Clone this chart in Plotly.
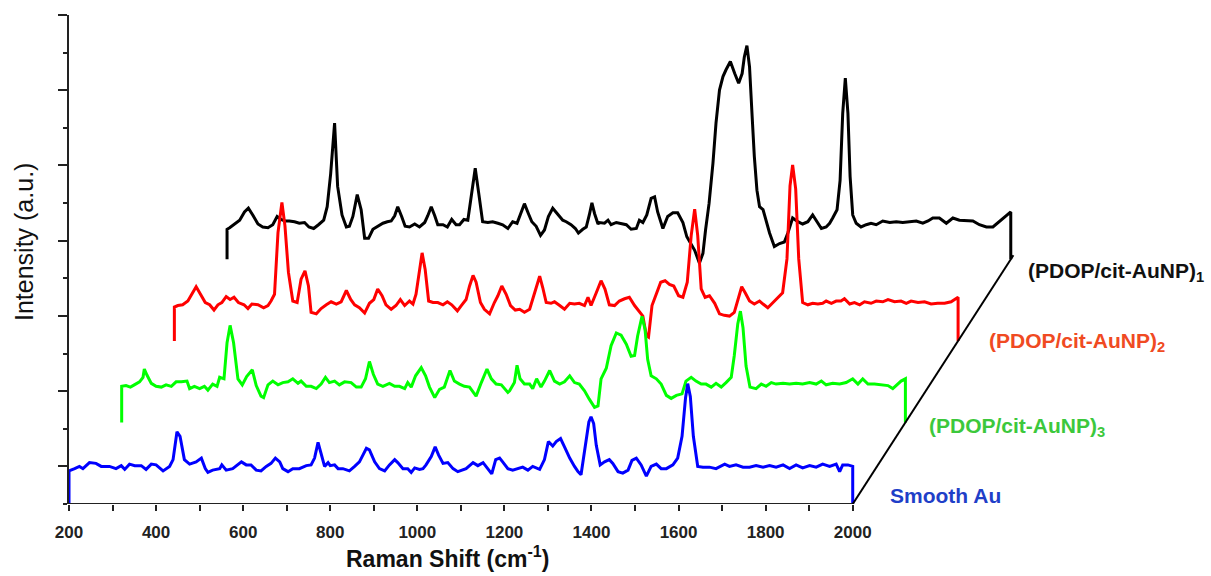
import plotly.graph_objects as go

# ---------------- data (Raman shift in cm^-1, intensity in a.u. above each trace's own floor) ----------------
smooth_au_shift = [200, 213, 224, 232, 247, 262, 274, 293, 308, 320, 328, 339, 351, 366, 377, 389, 400, 416, 431, 439,
                   448, 455, 465, 477, 492, 504, 513, 519, 530, 546, 551, 561, 576, 596, 607, 618, 630, 641, 653, 664,
                   674, 684, 691, 703, 714, 729, 745, 756, 764, 772, 779, 787, 795, 800, 810, 818, 829, 844, 856, 867,
                   875, 883, 890, 902, 913, 925, 936, 948, 955, 967, 978, 986, 994, 1005, 1013, 1020, 1032, 1041, 1049,
                   1059, 1070, 1082, 1093, 1112, 1128, 1139, 1151, 1162, 1171, 1180, 1189, 1196, 1208, 1219, 1231, 1242,
                   1254, 1265, 1281, 1292, 1301, 1311, 1319, 1329, 1338, 1350, 1361, 1369, 1376, 1386, 1394, 1399, 1405,
                   1411, 1420, 1430, 1441, 1449, 1461, 1472, 1484, 1493, 1503, 1514, 1526, 1537, 1549, 1560, 1572, 1587,
                   1598, 1608, 1616, 1621, 1627, 1634, 1644, 1656, 1671, 1686, 1698, 1706, 1717, 1732, 1748, 1763, 1778,
                   1794, 1809, 1824, 1840, 1855, 1870, 1885, 1901, 1916, 1931, 1947, 1962, 1970, 1977, 1989, 2000]
smooth_au_int = [0.44, 0.47, 0.50, 0.47, 0.55, 0.54, 0.50, 0.50, 0.47, 0.51, 0.46, 0.53, 0.51, 0.51, 0.46, 0.53, 0.52,
                 0.44, 0.50, 0.59, 0.96, 0.90, 0.59, 0.53, 0.56, 0.61, 0.47, 0.42, 0.45, 0.47, 0.52, 0.45, 0.47, 0.56,
                 0.52, 0.52, 0.45, 0.44, 0.50, 0.54, 0.61, 0.56, 0.47, 0.43, 0.47, 0.47, 0.51, 0.52, 0.61, 0.82, 0.67,
                 0.50, 0.55, 0.51, 0.52, 0.47, 0.47, 0.44, 0.50, 0.56, 0.65, 0.74, 0.72, 0.56, 0.47, 0.44, 0.52, 0.59,
                 0.55, 0.47, 0.47, 0.42, 0.48, 0.46, 0.47, 0.52, 0.63, 0.76, 0.65, 0.54, 0.55, 0.47, 0.43, 0.47, 0.55,
                 0.51, 0.55, 0.47, 0.40, 0.59, 0.61, 0.56, 0.47, 0.45, 0.47, 0.49, 0.45, 0.50, 0.46, 0.59, 0.83, 0.77,
                 0.83, 0.87, 0.76, 0.61, 0.50, 0.43, 0.39, 0.76, 1.09, 1.16, 1.07, 0.78, 0.52, 0.56, 0.59, 0.54, 0.43,
                 0.41, 0.45, 0.58, 0.61, 0.52, 0.37, 0.50, 0.53, 0.47, 0.47, 0.52, 0.61, 0.90, 1.41, 1.60, 1.43, 0.90,
                 0.50, 0.49, 0.49, 0.47, 0.50, 0.53, 0.50, 0.52, 0.49, 0.49, 0.51, 0.49, 0.51, 0.49, 0.52, 0.47, 0.52,
                 0.48, 0.51, 0.49, 0.53, 0.50, 0.53, 0.43, 0.52, 0.52, 0.50]

aunp3_shift = [200, 210, 220, 229, 241, 249, 252, 258, 268, 279, 291, 302, 314, 325, 337, 350, 356, 367, 379, 390, 398,
               409, 419, 425, 435, 442, 449, 457, 467, 477, 487, 500, 509, 520, 526, 536, 547, 559, 570, 582, 593, 605,
               612, 624, 635, 647, 658, 668, 677, 689, 700, 712, 727, 739, 750, 760, 769, 778, 788, 800, 815, 827, 838,
               850, 857, 865, 875, 888, 898, 907, 919, 930, 941, 954, 964, 976, 987, 999, 1014, 1026, 1039, 1049, 1060,
               1072, 1087, 1091, 1102, 1108, 1115, 1125, 1137, 1144, 1153, 1163, 1171, 1183, 1194, 1206, 1217, 1229,
               1240, 1251, 1263, 1274, 1286, 1294, 1301, 1313, 1324, 1336, 1347, 1359, 1370, 1378, 1385, 1395, 1402,
               1408, 1416, 1428, 1439, 1451, 1462, 1474, 1487, 1496, 1508, 1519, 1531, 1542, 1554, 1565, 1577, 1588,
               1600, 1607, 1615, 1621, 1627, 1634, 1643, 1657, 1669, 1680, 1692, 1703, 1719, 1734, 1749, 1764, 1780,
               1795, 1807, 1818, 1833, 1849, 1864, 1879, 1891, 1902, 1914, 1929, 1944, 1960, 1971, 1983, 1990, 2000]
aunp3_int = [0.48, 0.49, 0.47, 0.50, 0.54, 0.60, 0.71, 0.63, 0.52, 0.48, 0.47, 0.50, 0.48, 0.54, 0.54, 0.55, 0.45,
             0.48, 0.45, 0.48, 0.43, 0.51, 0.48, 0.60, 0.58, 1.06, 1.29, 1.06, 0.58, 0.50, 0.61, 0.70, 0.49, 0.35, 0.33,
             0.50, 0.55, 0.50, 0.53, 0.54, 0.58, 0.52, 0.55, 0.48, 0.48, 0.45, 0.51, 0.60, 0.53, 0.55, 0.50, 0.54, 0.53,
             0.47, 0.47, 0.58, 0.81, 0.64, 0.51, 0.48, 0.52, 0.48, 0.48, 0.45, 0.53, 0.47, 0.62, 0.73, 0.62, 0.47, 0.33,
             0.44, 0.47, 0.69, 0.55, 0.51, 0.48, 0.47, 0.35, 0.53, 0.71, 0.58, 0.51, 0.50, 0.40, 0.42, 0.53, 0.76, 0.58,
             0.51, 0.51, 0.45, 0.58, 0.47, 0.55, 0.69, 0.55, 0.51, 0.54, 0.62, 0.53, 0.51, 0.42, 0.31, 0.20, 0.22, 0.58,
             0.72, 1.02, 1.19, 1.16, 1.04, 0.88, 0.89, 1.15, 1.41, 1.24, 0.84, 0.62, 0.58, 0.51, 0.36, 0.32, 0.36, 0.38,
             0.55, 0.60, 0.55, 0.51, 0.51, 0.47, 0.52, 0.47, 0.53, 0.60, 0.89, 1.31, 1.48, 1.26, 0.75, 0.47, 0.45, 0.51,
             0.48, 0.53, 0.51, 0.52, 0.51, 0.52, 0.51, 0.53, 0.51, 0.55, 0.50, 0.52, 0.51, 0.53, 0.58, 0.51, 0.58, 0.51,
             0.51, 0.50, 0.49, 0.45, 0.51, 0.55, 0.58]

aunp2_shift = [200, 208, 219, 231, 240, 250, 260, 271, 281, 291, 300, 309, 319, 328, 337, 347, 360, 369, 378, 392, 405,
               415, 422, 430, 438, 447, 454, 462, 472, 482, 491, 500, 508, 514, 526, 537, 549, 560, 572, 583, 595, 605,
               614, 625, 637, 648, 658, 667, 677, 686, 698, 709, 719, 729, 740, 748, 755, 763, 769, 776, 784, 794, 805,
               817, 827, 837, 850, 859, 870, 878, 886, 893, 903, 912, 924, 935, 943, 952, 962, 972, 983, 993, 1004,
               1016, 1023, 1031, 1039, 1046, 1054, 1065, 1073, 1085, 1096, 1108, 1119, 1130, 1142, 1150, 1157, 1169,
               1180, 1189, 1199, 1211, 1222, 1234, 1245, 1257, 1268, 1276, 1284, 1289, 1297, 1307, 1317, 1327, 1337,
               1347, 1358, 1368, 1378, 1387, 1395, 1402, 1410, 1419, 1429, 1441, 1452, 1463, 1475, 1486, 1496, 1503,
               1511, 1521, 1532, 1544, 1552, 1563, 1575, 1586, 1597, 1607, 1614, 1620, 1627, 1634, 1643, 1655, 1666,
               1678, 1689, 1697, 1709, 1720, 1731, 1739, 1751, 1762, 1774, 1785, 1800, 1812, 1827, 1839, 1854, 1869,
               1881, 1892, 1908, 1923, 1938, 1953, 1969, 1984, 2000]
aunp2_int = [0.45, 0.47, 0.48, 0.53, 0.62, 0.72, 0.62, 0.51, 0.48, 0.41, 0.48, 0.51, 0.59, 0.55, 0.58, 0.51, 0.48,
             0.43, 0.49, 0.48, 0.44, 0.47, 0.53, 0.62, 1.44, 1.84, 1.53, 0.91, 0.53, 0.51, 0.82, 0.93, 0.73, 0.38, 0.36,
             0.43, 0.48, 0.52, 0.49, 0.52, 0.67, 0.55, 0.48, 0.44, 0.37, 0.50, 0.55, 0.69, 0.60, 0.48, 0.42, 0.47, 0.55,
             0.47, 0.53, 0.49, 0.62, 0.95, 1.17, 0.95, 0.53, 0.51, 0.51, 0.48, 0.52, 0.48, 0.40, 0.47, 0.55, 0.73, 0.87,
             0.78, 0.51, 0.42, 0.36, 0.51, 0.60, 0.73, 0.62, 0.47, 0.41, 0.42, 0.38, 0.42, 0.55, 0.73, 0.86, 0.71, 0.51,
             0.50, 0.52, 0.47, 0.42, 0.50, 0.49, 0.50, 0.47, 0.58, 0.47, 0.64, 0.80, 0.69, 0.48, 0.47, 0.53, 0.56, 0.58,
             0.47, 0.38, 0.33, 0.07, 0.05, 0.47, 0.64, 0.78, 0.80, 0.75, 0.73, 0.60, 0.58, 0.78, 1.40, 1.75, 1.40, 0.69,
             0.58, 0.60, 0.50, 0.36, 0.34, 0.33, 0.38, 0.60, 0.72, 0.64, 0.53, 0.49, 0.53, 0.49, 0.44, 0.51, 0.58, 0.64,
             1.09, 2.06, 2.34, 2.02, 1.09, 0.51, 0.48, 0.50, 0.49, 0.50, 0.53, 0.50, 0.53, 0.53, 0.56, 0.49, 0.51, 0.48,
             0.52, 0.50, 0.53, 0.52, 0.55, 0.52, 0.53, 0.50, 0.53, 0.51, 0.52, 0.49, 0.50, 0.50, 0.52, 0.58]

aunp1_shift = [200, 206, 217, 229, 240, 249, 259, 271, 282, 294, 305, 315, 324, 333, 343, 355, 366, 378, 388, 399, 410,
               422, 430, 438, 447, 454, 464, 474, 481, 489, 499, 508, 516, 525, 535, 546, 558, 568, 577, 585, 592, 601,
               609, 619, 631, 642, 654, 661, 669, 677, 684, 696, 706, 716, 726, 734, 744, 753, 762, 770, 778, 787, 799,
               810, 822, 833, 845, 856, 866, 874, 883, 892, 900, 910, 920, 929, 938, 948, 958, 971, 979, 990, 1000,
               1007, 1017, 1025, 1032, 1038, 1044, 1052, 1055, 1067, 1075, 1082, 1094, 1105, 1117, 1128, 1140, 1147,
               1155, 1164, 1174, 1182, 1189, 1201, 1212, 1224, 1235, 1247, 1256, 1264, 1274, 1285, 1293, 1299, 1307,
               1316, 1323, 1331, 1339, 1346, 1356, 1366, 1375, 1383, 1388, 1394, 1400, 1406, 1411, 1417, 1423, 1431,
               1438, 1446, 1457, 1469, 1480, 1488, 1499, 1511, 1522, 1534, 1545, 1557, 1565, 1576, 1584, 1591, 1601,
               1608, 1614, 1620, 1626, 1631, 1637, 1645, 1656, 1668, 1679, 1691, 1706, 1722, 1737, 1752, 1767, 1783,
               1798, 1810, 1821, 1836, 1852, 1867, 1882, 1898, 1913, 1928, 1944, 1959, 1974, 1989, 2000]
aunp1_int = [0.40, 0.42, 0.47, 0.52, 0.63, 0.68, 0.59, 0.47, 0.43, 0.42, 0.46, 0.57, 0.53, 0.51, 0.51, 0.50, 0.48,
             0.49, 0.43, 0.41, 0.46, 0.52, 0.70, 1.14, 1.81, 0.97, 0.59, 0.43, 0.44, 0.57, 0.86, 0.66, 0.28, 0.28, 0.40,
             0.44, 0.48, 0.50, 0.51, 0.58, 0.70, 0.57, 0.44, 0.43, 0.47, 0.43, 0.49, 0.58, 0.70, 0.58, 0.46, 0.46, 0.43,
             0.53, 0.46, 0.46, 0.53, 0.52, 0.88, 1.21, 0.88, 0.50, 0.49, 0.50, 0.48, 0.46, 0.41, 0.50, 0.48, 0.61, 0.74,
             0.61, 0.50, 0.44, 0.32, 0.39, 0.57, 0.68, 0.61, 0.52, 0.50, 0.46, 0.41, 0.35, 0.40, 0.43, 0.59, 0.75, 0.61,
             0.47, 0.49, 0.48, 0.52, 0.46, 0.49, 0.48, 0.46, 0.40, 0.41, 0.52, 0.49, 0.59, 0.81, 0.83, 0.63, 0.41, 0.57,
             0.62, 0.62, 0.49, 0.30, 0.22, 0.12, -0.05, 0.08, 0.39, 0.74, 1.28, 1.81, 2.25, 2.43, 2.52, 2.63, 2.47, 2.34,
             2.47, 2.69, 2.84, 2.56, 1.90, 1.37, 0.92, 0.70, 0.66, 0.50, 0.35, 0.17, 0.21, 0.23, 0.35, 0.55, 0.50, 0.47,
             0.50, 0.59, 0.48, 0.41, 0.43, 0.48, 0.55, 0.66, 1.05, 1.94, 2.41, 1.94, 1.10, 0.59, 0.48, 0.43, 0.46, 0.48,
             0.46, 0.51, 0.49, 0.50, 0.49, 0.50, 0.51, 0.48, 0.51, 0.55, 0.55, 0.48, 0.55, 0.52, 0.51, 0.51, 0.46, 0.43,
             0.43, 0.50, 0.57, 0.63]

series_names = ["Smooth Au", "(PDOP/cit-AuNP)<sub>3</sub>", "(PDOP/cit-AuNP)<sub>2</sub>", "(PDOP/cit-AuNP)<sub>1</sub>"]
x_tick_values = list(range(200, 2001, 200))
x_tick_labels = [str(v) for v in x_tick_values]
x_minor_values = list(range(300, 2000, 200))

# ---------------- waterfall geometry / styling ----------------
SHIFT_X = 121.0     # horizontal offset per spectrum (cm^-1)
STEP_Y = 1.084      # vertical offset per spectrum (a.u.)
FLOOR0 = -0.5       # floor of the front spectrum
FONT = "Liberation Sans, Arial, sans-serif"

line_colors = ["#0000ff", "#00ff00", "#ff0000", "#000000"]
label_colors = ["#1f3fc8", "#3cc83c", "#f04a22", "#111111"]
shifts = [smooth_au_shift, aunp3_shift, aunp2_shift, aunp1_shift]
ints = [smooth_au_int, aunp3_int, aunp2_int, aunp1_int]

fig = go.Figure()
# draw back to front
for k in [3, 2, 1, 0]:
    xs = [shifts[k][0]] + shifts[k] + [shifts[k][-1]]
    ys = [0.0] + ints[k] + [0.0]
    fig.add_trace(go.Scatter(
        x=[v + k * SHIFT_X for v in xs],
        y=[v + FLOOR0 + k * STEP_Y for v in ys],
        mode="lines",
        line=dict(color=line_colors[k], width=3),
        name=series_names[k],
        showlegend=False,
        hoverinfo="skip",
    ))

# x-axis baseline (only 200-2000) and depth diagonal
fig.add_shape(type="line", xref="x", yref="y", x0=196, x1=2000, y0=FLOOR0, y1=FLOOR0,
              line=dict(color="#222222", width=2))
fig.add_shape(type="line", xref="x", yref="y", x0=2000, y0=FLOOR0,
              x1=2000 + 3.05 * SHIFT_X, y1=FLOOR0 + 3.05 * STEP_Y,
              line=dict(color="#000000", width=2))

L, R, T, B = 69, 0, 15, 72
W, H = 1211, 576
px_per_unit = 0.4354
x_max = 200 + (W - L - R) / px_per_unit

fig.update_layout(
    width=W, height=H,
    margin=dict(l=L, r=R, t=T, b=B, pad=0),
    paper_bgcolor="white", plot_bgcolor="white",
    xaxis=dict(range=[200, x_max], showgrid=False, zeroline=False, showline=False,
               tickmode="array", tickvals=x_tick_values, ticktext=x_tick_labels,
               ticks="outside", ticklen=6, tickwidth=1.5, tickcolor="#222222",
               ticklabelstandoff=7,
               tickfont=dict(family=FONT, size=17, color="#222222", weight="bold"),
               minor=dict(tickmode="array", tickvals=x_minor_values, ticks="outside", ticklen=6,
                          tickwidth=1.5, tickcolor="#222222")),
    yaxis=dict(range=[FLOOR0, 6.0], showgrid=False, zeroline=False, showline=True,
               linecolor="#222222", linewidth=2, showticklabels=False,
               tickmode="linear", tick0=0, dtick=1, ticks="outside", ticklen=9, tickwidth=2,
               tickcolor="#222222",
               minor=dict(tick0=-0.5, dtick=0.5, ticks="outside", ticklen=4, tickwidth=2,
                          tickcolor="#222222")),
    showlegend=False,
)

def px2paper(px, py):
    return (px - L) / (W - L - R), (H - B - py) / (H - T - B)

label_px = [(888, 495), (927, 427), (987, 342), (1026, 272)]
for k in range(4):
    ax, ay = px2paper(*label_px[k])
    fig.add_annotation(x=ax, y=ay, xref="paper", yref="paper", text="<b>" + series_names[k] + "</b>",
                       showarrow=False, xanchor="left", yanchor="middle",
                       font=dict(family=FONT, size=21, color=label_colors[k]))

tx, ty = px2paper(447, 557)
fig.add_annotation(x=tx, y=ty, xref="paper", yref="paper", text="<b>Raman Shift (cm<sup>-1</sup>)</b>",
                   showarrow=False, xanchor="center", yanchor="middle",
                   font=dict(family=FONT, size=23, color="#111111"))
yx, yy = px2paper(24, 242)
fig.add_annotation(x=yx, y=yy, xref="paper", yref="paper", text="Intensity (a.u.)", textangle=-90,
                   showarrow=False, xanchor="center", yanchor="middle",
                   font=dict(family=FONT, size=25, color="#111111"))

fig.write_html("out.html")
